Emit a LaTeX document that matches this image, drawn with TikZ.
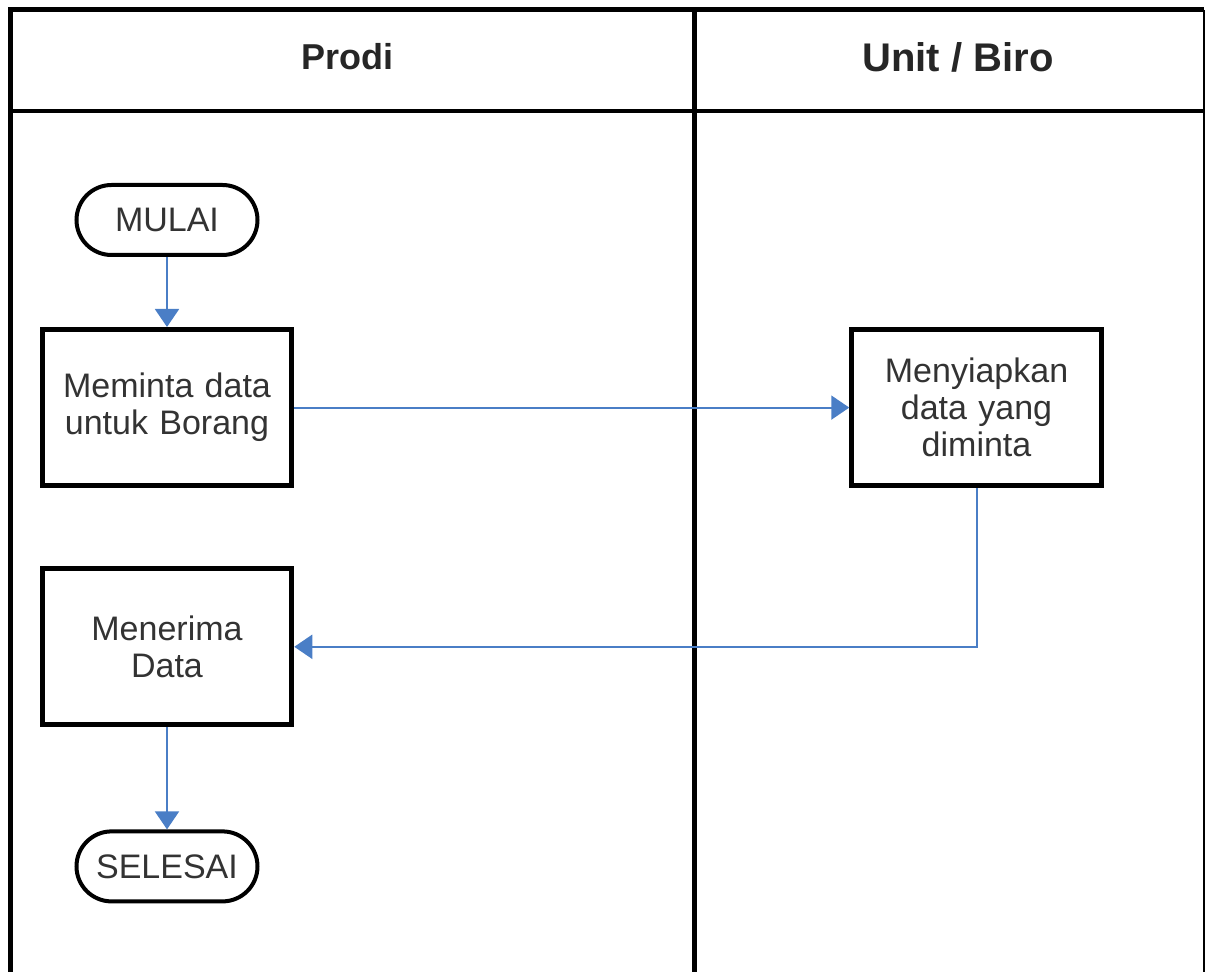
\documentclass[tikz,border=0pt]{standalone}
\usepackage{fontspec}
\setmainfont{Liberation Sans}
\usetikzlibrary{arrows.meta,positioning}
\definecolor{flowblue}{RGB}{74,126,198}
\definecolor{txtgrey}{RGB}{51,51,51}

\begin{document}
\begin{tikzpicture}[
  x=0.5pt, y=-0.5pt,
  lane/.style={font=\fontsize{18}{21}\selectfont\bfseries, text=black!85},
  term/.style={draw, line width=2pt, rounded corners=17.5pt, minimum width=90.5pt, minimum height=35pt, inner sep=2pt, font=\fontsize{17}{19}\selectfont, text=txtgrey},
  box/.style={draw, line width=2.6pt, align=center, minimum width=123pt, minimum height=78pt, text width=118pt, font=\fontsize{17}{18.5}\selectfont, text=txtgrey},
  flow/.style={draw=flowblue, line width=1pt, -{Triangle[length=9pt, width=12pt, fill=flowblue]}}
]
\useasboundingbox (0,0) rectangle (1206,972);
\draw[line width=2.5pt] (10,972) -- (10,10) -- (1204,10);
\draw[line width=0.8pt] (1204,10) -- (1204,972);
\draw[line width=2pt] (10,111) -- (1204,111);
\draw[line width=2.5pt] (694,10) -- (694,972);
\node[lane] (prodi) at (347,57) {Prodi};
\node[lane, font=\fontsize{20}{23}\selectfont\bfseries] (unit) at (958,57) {Unit / Biro};

\node[term] (mulai) at (167,220) {MULAI};
\node[box, below=35pt of mulai] (minta) {Meminta data\\untuk Borang};
\node[box, right=277.5pt of minta] (siap) {Menyiapkan\\data yang\\diminta};
\node[box, below=39pt of minta] (terima) {Menerima\\Data};
\node[term, below=51pt of terima] (selesai) {SELESAI};

\draw[flow] (mulai) -- (minta);
\draw[flow] (minta) -- (siap);
\draw[flow] (siap.south) |- (terima.east);
\draw[flow] (terima) -- (selesai);
\end{tikzpicture}
\end{document}
